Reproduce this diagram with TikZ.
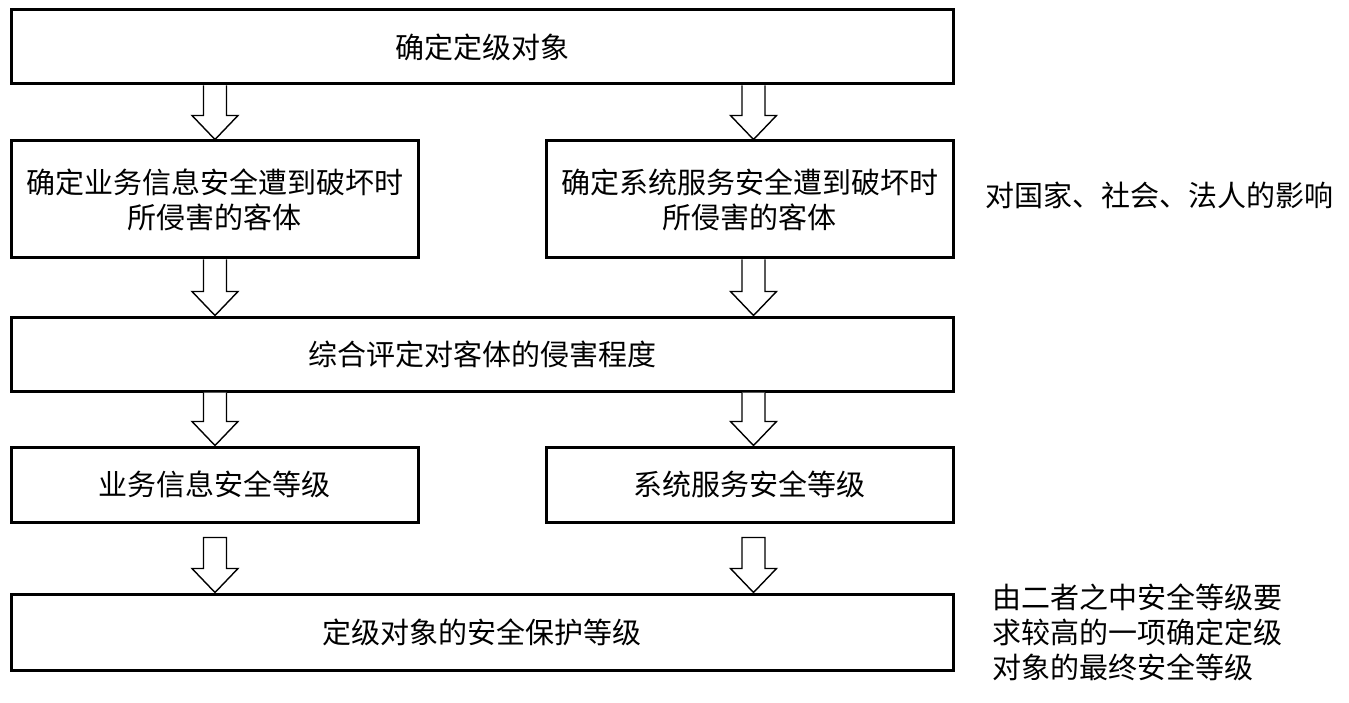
\documentclass[tikz,border=0pt]{standalone}
\usepackage{fontspec}
\setmainfont{Noto Sans CJK SC}
\usetikzlibrary{calc}
\tikzset{
  box/.style={draw=black, line width=3pt, fill=white, inner sep=0pt, align=center, font=\fontsize{29}{35}\selectfont},
  blockarrow/.style={draw=black, line width=1.4pt, fill=white, line join=miter},
  note/.style={inner sep=0pt, align=left, font=\fontsize{29}{35}\selectfont, anchor=west}
}
% #1 x-coordinate name, #2 start node anchor, #3 end node anchor, #4 gap at top
\newcommand\blockarr[4]{%
  \draw[blockarrow] let \p1=(#2 -| #1), \p2=(#3 -| #1) in
    (\x1-11.5pt,\y1-#4) -- (\x1-11.5pt,\y2+24pt) -- (\x1-23pt,\y2+24pt) -- (\x1,\y2)
    -- (\x1+23pt,\y2+24pt) -- (\x1+11.5pt,\y2+24pt) -- (\x1+11.5pt,\y1-#4)
    \ifdim#4>0pt -- cycle\fi;}
\begin{document}
\begin{tikzpicture}[x=1pt,y=-1pt]
\useasboundingbox (0,0) rectangle (1349,703);
\coordinate (L) at (215,0);
\coordinate (R) at (753.5,0);
\node[box, minimum width=942pt, minimum height=74pt] (b1) at (482,47) {确定定级对象};
\node[box, minimum width=407pt, minimum height=117pt] (b2) at (214.5,199.5) {确定业务信息安全遭到破坏时\\所侵害的客体};
\node[box, minimum width=407pt, minimum height=117pt] (b3) at (749.5,199.5) {确定系统服务安全遭到破坏时\\所侵害的客体};
\node[box, minimum width=942pt, minimum height=74pt] (b4) at (482,354) {综合评定对客体的侵害程度};
\node[box, minimum width=407pt, minimum height=75pt] (b5) at (214.5,484.5) {业务信息安全等级};
\node[box, minimum width=407pt, minimum height=75pt] (b6) at (749.5,484.5) {系统服务安全等级};
\node[box, minimum width=942pt, minimum height=76pt] (b7) at (482,632) {定级对象的安全保护等级};
\node[note] (n1) at (985,195) {对国家、社会、法人的影响};
\node[note] (n2) at (992,632) {由二者之中安全等级要\\求较高的一项确定定级\\对象的最终安全等级};
\blockarr{L}{b1.south}{b2.north}{0pt}
\blockarr{R}{b1.south}{b3.north}{0pt}
\blockarr{L}{b2.south}{b4.north}{0pt}
\blockarr{R}{b3.south}{b4.north}{0pt}
\blockarr{L}{b4.south}{b5.north}{0pt}
\blockarr{R}{b4.south}{b6.north}{0pt}
\blockarr{L}{b5.south}{b7.north}{14pt}
\blockarr{R}{b6.south}{b7.north}{14pt}
\end{tikzpicture}
\end{document}
